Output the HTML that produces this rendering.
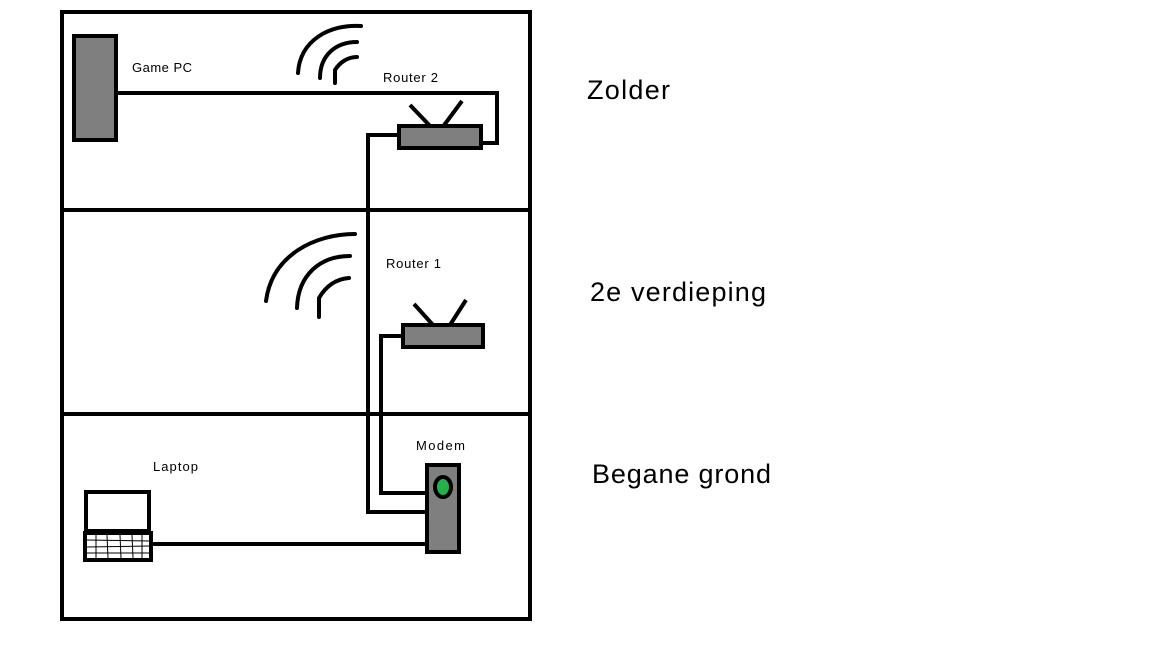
<!DOCTYPE html>
<html><head><meta charset="utf-8"><style>
html,body{margin:0;padding:0;background:#fff;width:1152px;height:648px;overflow:hidden}
svg{display:block}
text{font-family:"Liberation Sans",sans-serif}
</style></head><body>
<svg width="1152" height="648" viewBox="0 0 1152 648" xmlns="http://www.w3.org/2000/svg">
<rect width="1152" height="648" fill="#fff"/>
<g stroke="#000" stroke-width="4" fill="none">
<rect x="62" y="12" width="468" height="607"/>
<line x1="62" y1="210" x2="530" y2="210"/>
<line x1="62" y1="414" x2="530" y2="414"/>
<polyline points="117,93 497,93 497,143 482,143"/>
<polyline points="397,135 368,135 368,512 426,512"/>
<polyline points="401,336 381,336 381,493 426,493"/>
<line x1="153" y1="544" x2="426" y2="544"/>
<line x1="410" y1="105" x2="431" y2="127"/>
<line x1="462" y1="101" x2="442" y2="128"/>
<line x1="414" y1="304" x2="433" y2="325"/>
<line x1="466" y1="300" x2="450" y2="325"/>
<path d="M298,73 C300,40 330,24 361,26" stroke-linecap="round"/>
<path d="M320,78 C320,55 336,42 357,42" stroke-linecap="round"/>
<path d="M335,83 L335,70 C340,62 348,57 357,57" stroke-linecap="round"/>
<path d="M266,301 C272,255 315,234 355,234" stroke-linecap="round"/>
<path d="M297,308 C298,275 320,256 350,256" stroke-linecap="round"/>
<path d="M319,317 L319,298 C326,286 336,279 349,278" stroke-linecap="round"/>
</g>
<g stroke="#000" stroke-width="4" fill="#7f7f7f">
<rect x="74" y="36" width="42" height="104"/>
<rect x="399" y="126" width="82" height="22"/>
<rect x="403" y="325" width="80" height="22"/>
<rect x="427" y="465" width="32" height="87"/>
</g>
<ellipse cx="443" cy="487" rx="8" ry="10" fill="#22b14c" stroke="#000" stroke-width="4"/>
<rect x="86" y="492" width="63" height="39" fill="#fff" stroke="#000" stroke-width="4"/>
<rect x="85" y="533" width="66" height="27" fill="#fff" stroke="#000" stroke-width="4"/>
<g stroke="#000" stroke-width="1">
<line x1="87" y1="540" x2="149" y2="541"/>
<line x1="87" y1="547" x2="149" y2="546"/>
<line x1="87" y1="553" x2="149" y2="553"/>
<line x1="96" y1="535" x2="96" y2="558"/>
<line x1="107" y1="535" x2="108" y2="558"/>
<line x1="120" y1="535" x2="121" y2="558"/>
<line x1="132" y1="535" x2="133" y2="558"/>
<line x1="142" y1="535" x2="142" y2="558"/>
</g>
<g font-size="13" fill="#000">
<text x="132" y="72" textLength="60">Game PC</text>
<text x="383" y="82" textLength="55">Router 2</text>
<text x="386" y="268" textLength="55">Router 1</text>
<text x="416" y="450" textLength="49">Modem</text>
<text x="153" y="471" textLength="45">Laptop</text>
</g>
<g font-size="27" fill="#000">
<text x="587" y="99" textLength="83">Zolder</text>
<text x="590" y="301" textLength="176">2e verdieping</text>
<text x="592" y="483" textLength="179">Begane grond</text>
</g>
</svg>
</body></html>
